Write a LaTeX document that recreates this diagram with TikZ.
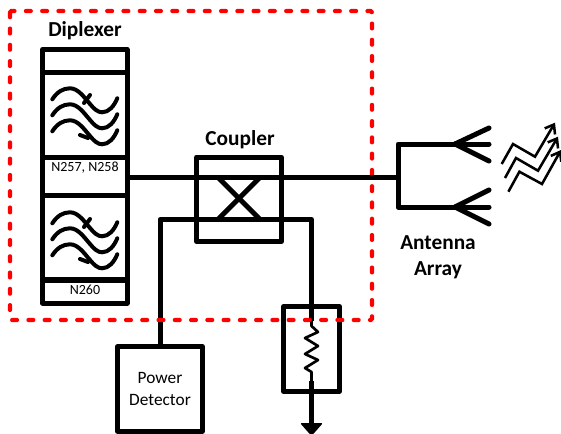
\documentclass[tikz,border=0pt]{standalone}
\usepackage{fontspec}
\setmainfont{Carlito}
\usetikzlibrary{arrows.meta}
\tikzset{
  boxnode/.style={rectangle, draw=black, line width=3.75pt, inner sep=0pt, outer sep=0pt, line join=round},
  title/.style={font=\fontsize{16}{18}\selectfont\bfseries, inner sep=0pt, align=center},
  small/.style={font=\fontsize{10.5}{12}\selectfont, inner sep=0pt},
  wire/.style={black, line width=3.75pt, line join=round},
  wave/.style={black, line width=3pt, line cap=round},
  beam/.style={black, line width=1.9pt, line join=miter, -{Straight Barb[length=6pt,width=9pt]}},
}
\begin{document}
\begin{tikzpicture}[x=0.75pt, y=-0.75pt]
                \useasboundingbox (0, 0) rectangle (561, 433);

                \node[boxnode, minimum width=63.4pt, minimum height=17.3pt] (top)     at (84.75, 61.0) {};
                \node[boxnode, minimum width=63.4pt, minimum height=63.4pt] (filtera) at (84.75, 114.75) {};
                \node[boxnode, minimum width=63.4pt, minimum height=29.0pt] (banda)   at (84.75, 176.35) {};
                \node[boxnode, minimum width=63.4pt, minimum height=63.4pt] (filterb) at (84.75, 237.85) {};
                \node[boxnode, minimum width=63.4pt, minimum height=17.3pt] (bandb)   at (84.75, 291.5) {};
                \node[boxnode, minimum width=63.4pt, minimum height=63.4pt] (coupler) at (239.0, 199.3) {};
                \node[boxnode, minimum width=63.4pt, minimum height=63.4pt] (detector) at (160.0, 389.0) {};
                \node[boxnode, minimum width=42.0pt, minimum height=63.4pt] (load)    at (311.5, 349.0) {};

                % text
                \node[title] (diplexerlabel) at (85, 31) {Diplexer};
                \node[title] (couplerlabel)  at (240, 140) {Coupler};
                \node[title] (antennalabel)  at (438, 257.5) {Antenna\\[1.5pt]Array};
                \node[small] (bandatext) at (85, 168) {N257, N258};
                \node[small] (bandbtext) at (85, 290) {N260};
                \node[font=\fontsize{13}{16.5}\selectfont, inner sep=0pt, align=center] (detectortext) at (160, 389) {Power\\Detector};

                \coordinate (feed)  at (398, 177.3);
                \coordinate (feeda) at (398, 144);
                \coordinate (feedb) at (398, 207);
                \coordinate (forka) at (455, 144);
                \coordinate (forkb) at (455, 207);
                \coordinate (cross) at (160, 219.3);
                \coordinate (bend)  at (311.5, 219.3);
                \coordinate (loadin)  at (311.5, 321);
                \coordinate (loadout) at (311.5, 381);
                \coordinate (ground)  at (311.5, 425);

                % filter symbols
                \foreach \fy in {0, 124}
                    \foreach \dy in {0, 16, 32} {
                        \draw[wave, shift={(0, \fy+\dy)}] (52.3, 99.3) .. controls (57, 92) and (63, 88.3) .. (70, 88.3) .. controls (78, 88.3) and (84, 97) .. (90, 104) .. controls (94, 109) and (98, 112.3) .. (102, 112.3) .. controls (109, 112.3) and (114, 106) .. (117.3, 98.3);
                    }
                \foreach \fy in {0, 124} {
                    \draw[wave, shift={(0, \fy)}] (90, 95) -- (84, 103);
                    \draw[wave, shift={(0, \fy)}] (80, 135) -- (88, 138);
                }

                % wires
                \draw[wire] (detector.north) -- (cross) -- (bend) -- (load.north);
                \draw[wire] (load.north) -- (loadin);
                \draw[wire] (loadout) -- (load.south) -- (ground);
                \draw[wire] (218, 177.3) -- (260, 219.3);
                \draw[wire] (218, 219.3) -- (260, 177.3);
                \draw[black, line width=2pt, line join=round] (loadin) -- (311.5, 326) -- (318, 332) -- (305, 338) -- (318, 346) -- (305, 354) -- (318, 360) -- (305, 368) -- (311.5, 372) -- (loadout);
                \fill[black, rounded corners=1pt] (300, 423) -- (323, 423) -- (311.5, 436) -- cycle;

                \draw[red, line width=3.2pt, line cap=round, dash pattern=on 3.6pt off 8.6pt, rounded corners=1pt] (10, 11) rectangle (372, 320);

                \draw[wire] (banda.east |- feed) -- (feed);
                \draw[wire] (forka) -- (feeda) -- (feedb) -- (forkb);
                \draw[wire, line cap=round] (forka) -- (489, 128);
                \draw[wire, line cap=round] (forka) -- (489, 144);
                \draw[wire, line cap=round] (forka) -- (489, 161);
                \draw[wire, line cap=round] (forkb) -- (489, 190);
                \draw[wire, line cap=round] (forkb) -- (489, 207);
                \draw[wire, line cap=round] (forkb) -- (489, 224);

                % beams
                \draw[beam] (501.7, 164) -- (513, 144) -- (535, 156.7) -- (555, 122.7);
                \draw[beam] (505, 178) -- (516, 158) -- (538, 170.7) -- (558, 136.7);
                \draw[beam] (508.4, 191.7) -- (519.4, 171.7) -- (542, 184) -- (561, 150);
            \end{tikzpicture}
\end{document}
